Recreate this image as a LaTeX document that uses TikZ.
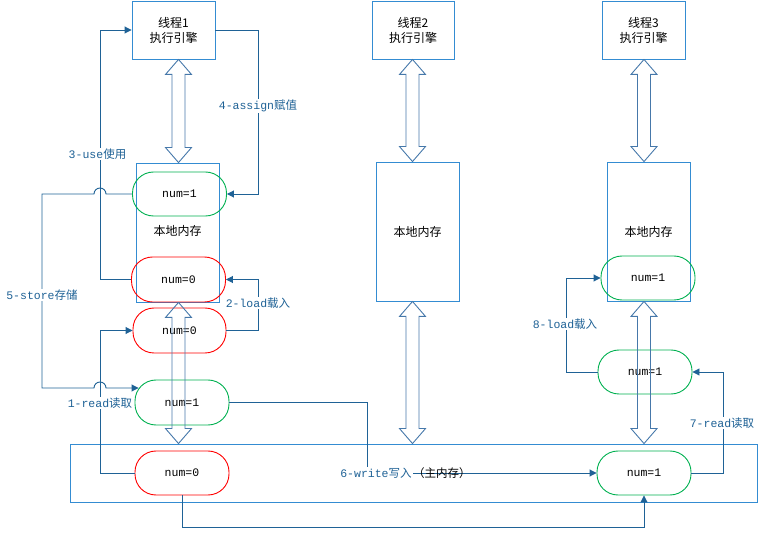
\documentclass[tikz,border=0pt]{standalone}
\usepackage{fontspec}
\setmainfont{Noto Sans CJK SC}
\newfontfamily\monof{Liberation Mono}
\usetikzlibrary{arrows.meta,calc}
\definecolor{boxblue}{RGB}{52,140,210}
\definecolor{connblue}{RGB}{31,98,150}
\definecolor{dblblue}{RGB}{70,120,170}
\definecolor{mygreen}{RGB}{0,176,80}
\definecolor{myred}{RGB}{255,0,0}
\tikzset{
  box/.style={draw=boxblue, line width=0.9pt, inner sep=0pt, align=center,
    font=\fontsize{12}{15}\selectfont},
  stad/.style={rectangle, rounded corners=21pt, line width=0.9pt, minimum width=94pt,
    minimum height=44pt, inner sep=0pt, font=\monof\fontsize{11.5}{14}\selectfont},
  gst/.style={stad, draw=mygreen},
  rst/.style={stad, draw=myred},
  conn/.style={draw=connblue, line width=0.9pt},
  arr/.style={conn, -{Triangle[length=7pt,width=7pt]}},
  lab/.style={fill=white, text=connblue, inner sep=1pt, font=\fontsize{11.5}{14}\selectfont},
  dbl/.style={draw=dblblue, line width=0.9pt, line join=miter}
}
\newcommand\dblarr[2]{%
  \draw[dbl] let \p1=(#1), \p2=(#2) in
    (\x1,\y1) -- (\x1+13pt,\y1-15pt) -- (\x1+6.5pt,\y1-15pt) -- (\x1+6.5pt,\y2+15pt)
    -- (\x1+13pt,\y2+15pt) -- (\x1,\y2) -- (\x1-13pt,\y2+15pt) -- (\x1-6.5pt,\y2+15pt)
    -- (\x1-6.5pt,\y1-15pt) -- (\x1-13pt,\y1-15pt) -- cycle;}
\begin{document}
\begin{tikzpicture}[x=1pt,y=-1pt]
\useasboundingbox (0,0) rectangle (761,537);
% boxes
\node[box, minimum width=687pt, minimum height=58pt] (M) at (413.5,473) {};
\node[box, minimum width=83pt, minimum height=139pt] (L1) at (177.5,232.5) {};
\node[font=\fontsize{12}{15}\selectfont] (L1t) at (177.5,231) {本地内存};
\node[box, minimum width=83pt, minimum height=139pt] (L2) at (417.5,231.5) {本地内存};
\node[box, minimum width=83pt, minimum height=139pt] (L3) at (648.5,231.5) {本地内存};
\node[box, minimum width=83pt, minimum height=58pt] (T1) at (173.5,30) {线程1\\执行引擎};
\node[box, minimum width=82pt, minimum height=58pt] (T2) at (413,30) {线程2\\执行引擎};
\node[box, minimum width=83pt, minimum height=58pt] (T3) at (643.5,30) {线程3\\执行引擎};
% value nodes
\node[gst] (A) at (179.5,194) {num=1};
\node[rst, minimum height=45pt] (B) at (178.5,279.5) {num=0};
\node[rst, minimum height=45pt, minimum width=93pt] (C) at (179.5,330.5) {num=0};
\node[gst, minimum height=45pt] (D) at (182,402.5) {num=1};
\node[rst] (E) at (182,473) {num=0};
\node[gst] (F) at (644,473) {num=1};
\node[gst] (G) at (645,372) {num=1};
\node[gst] (H) at (648,278) {num=1};
% connectors
\draw[arr] (B.west) -- (100,279.5) |- (T1.west);
\draw[arr] (T1.east) -- (258,30) |- (A.east);
\draw[arr] (C.east) -- (258,330.5) |- (B.east);
\draw[arr] (E.west) -- (100,473) |- (C.west);
\draw[arr] (A.west) -- (106,194) arc[start angle=0,end angle=180,radius=6pt]
   -- (42,194) -- (42,388) -- (94,388) arc[start angle=180,end angle=0,radius=6pt]
   -- ($(D.west)+(4,-14.5)$);
\draw[arr] (D.east) -- (367,402.5) |- (F.west);
\draw[arr] (F.east) -- (723,473) |- (G.east);
\draw[arr] (G.west) -- (566,372) |- (H.west);
\draw[arr] (E.south) -- (182,527) -| (F.south);
% labels
\node[lab] (l3) at (97.5,154) {{\monof 3-use}使用};
\node[lab] (l4) at (258,106) {{\monof 4-assign}赋值};
\node[lab] (l5) at (42,295) {{\monof 5-store}存储};
\node[lab] (l2) at (258,303) {{\monof 2-load}载入};
\node[lab] (l1) at (100,403) {{\monof 1-read}读取};
\node[lab] (l6) at (376,473) {{\monof 6-write}写入};
\node[inner sep=0pt, font=\fontsize{11.5}{14}\selectfont, anchor=west] (l6b) at (l6.east) {（主内存）};
\node[lab] (l7) at (722,423) {{\monof 7-read}读取};
\node[lab] (l8) at (565,324) {{\monof 8-load}载入};
% double arrows
\coordinate (a1) at (178.5,0);
\coordinate (a2) at (412.5,0);
\coordinate (a3) at (644,0);
\dblarr{a1 |- T1.south}{a1 |- L1.north}
\dblarr{a2 |- T2.south}{a2 |- L2.north}
\dblarr{a3 |- T3.south}{a3 |- L3.north}
\dblarr{a1 |- L1.south}{a1 |- M.north}
\dblarr{a2 |- L2.south}{a2 |- M.north}
\dblarr{a3 |- L3.south}{a3 |- M.north}
\end{tikzpicture}
\end{document}
